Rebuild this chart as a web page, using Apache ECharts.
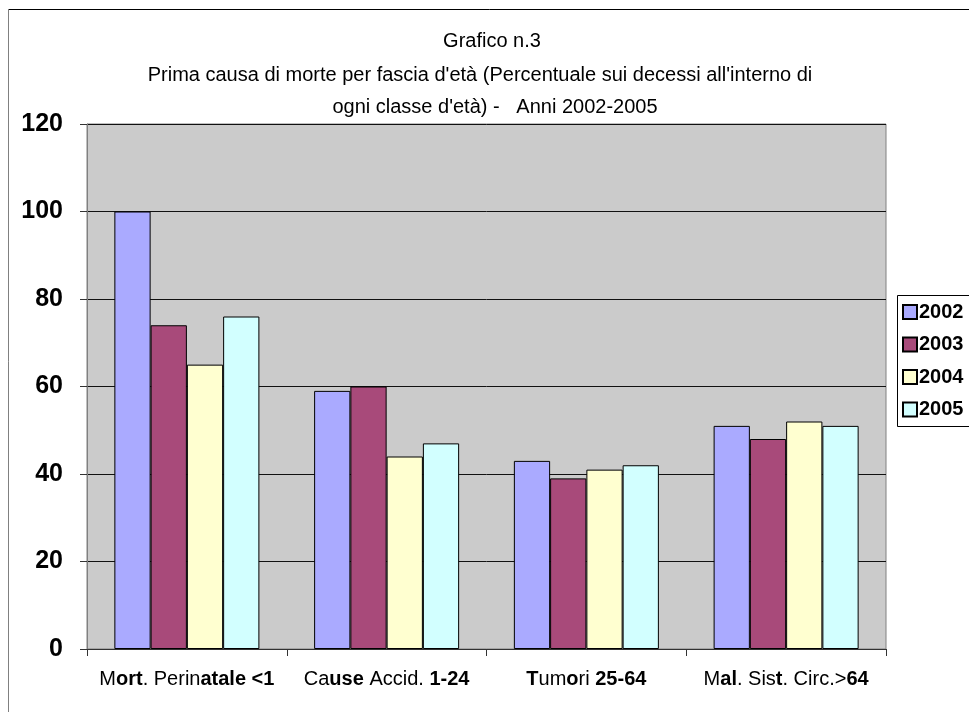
<!DOCTYPE html>
<html>
<head>
<meta charset="utf-8">
<script src="https://cdn.jsdelivr.net/npm/echarts@6/dist/echarts.min.js"></script>
<style>html,body{margin:0;padding:0;background:#fff;}#c{width:969px;height:712px;}</style>
</head>
<body>
<div id="c"></div>
<script>
var categories = ["Mort. Perinatale <1", "Cause Accid. 1-24", "Tumori 25-64", "Mal. Sist. Circ.>64"];
var years = ["2002", "2003", "2004", "2005"];
var v2002 = [100, 59, 43, 51];
var v2003 = [74, 60, 39, 48];
var v2004 = [65, 44, 41, 52];
var v2005 = [76, 47, 42, 51];
var yTicks = [0, 20, 40, 60, 80, 100, 120];
var titleLines = ["Grafico n.3",
  "Prima causa di morte per fascia d'età (Percentuale sui decessi all'interno di",
  "ogni classe d'età) -   Anni 2002-2005"];

// mixed weight rendering of the category labels (style only)
var labelRich = {
  "Mort. Perinatale <1": "{n|M}{b|ort}{n|. Perin}{b|atale <1}",
  "Cause Accid. 1-24": "{n|Ca}{b|use}{n| Accid. }{b|1-24}",
  "Tumori 25-64": "{b|T}{n|um}{b|o}{n|ri }{b|25-64}",
  "Mal. Sist. Circ.>64": "{n|M}{b|al}{n|. Sis}{b|t}{n|. Circ.>}{b|64}"
};

var colors = ["#AAAAFF", "#A84A7A", "#FFFFD0", "#D2FFFF"];
var seriesData = [v2002, v2003, v2004, v2005];
var FONT = "Arial, 'Liberation Sans', sans-serif";

var chart = echarts.init(document.getElementById('c'), null, {renderer: 'canvas'});
var series = years.map(function (y, i) {
  return {
    name: y, type: 'bar', data: seriesData[i],
    barGap: '0%', barCategoryGap: '27.4%',
    itemStyle: {color: colors[i], borderColor: '#000', borderWidth: 1},
    emphasis: {disabled: true}
  };
});

var titleX = [492, 480, 495];
var titleY = [41, 75, 107];
var graphics = titleLines.map(function (t, i) {
  return {type: 'text', x: titleX[i], y: titleY[i],
    style: {text: t, font: '20px ' + FONT, fill: '#000', textAlign: 'center', textVerticalAlign: 'middle'}};
});
graphics.push({type: 'line', shape: {x1: 8.5, y1: 9.5, x2: 980, y2: 9.5}, style: {stroke: '#000', lineWidth: 1}});
graphics.push({type: 'line', shape: {x1: 8.5, y1: 9.5, x2: 8.5, y2: 720}, style: {stroke: '#808080', lineWidth: 1}});
// legend frame running off the right edge, as in the reference
graphics.push({type: 'rect', z: -1, shape: {x: 897.5, y: 295.5, width: 120, height: 131},
  style: {fill: '#fff', stroke: '#000', lineWidth: 1}});

chart.setOption({
  animation: false,
  backgroundColor: '#fff',
  color: colors,
  graphic: graphics,
  grid: {left: 87, right: 83, top: 124, bottom: 63, show: true,
    backgroundColor: '#CBCBCB', borderColor: '#808080', borderWidth: 1},
  legend: {
    orient: 'vertical', left: 897, top: 296,
    data: years,
    icon: 'rect', itemWidth: 14, itemHeight: 14, itemGap: 12.5,
    borderWidth: 0,
    padding: [6, 4, 8, 5],
    textStyle: {fontFamily: FONT, fontSize: 20, fontWeight: 'bold', color: '#000', lineHeight: 20, padding: [0, 0, 0, -3]},
    selectedMode: false
  },
  xAxis: {
    type: 'category', data: categories,
    axisLine: {lineStyle: {color: '#333', width: 1}},
    axisTick: {show: true, length: 7, lineStyle: {color: '#333'}},
    axisLabel: {
      interval: 0, margin: 20, color: '#000', fontFamily: FONT, fontSize: 20,
      formatter: function (v) { return labelRich[v] || v; },
      rich: {
        n: {fontFamily: FONT, fontSize: 20, color: '#000'},
        b: {fontFamily: FONT, fontSize: 20, fontWeight: 'bold', color: '#000'}
      }
    }
  },
  yAxis: {
    type: 'value', min: yTicks[0], max: yTicks[yTicks.length - 1], interval: yTicks[1] - yTicks[0],
    axisLine: {show: true, lineStyle: {color: '#808080'}},
    axisTick: {show: true, length: 7, lineStyle: {color: '#333'}},
    axisLabel: {margin: 24, color: '#000', fontFamily: FONT, fontSize: 25, fontWeight: 'bold'},
    splitLine: {show: true, lineStyle: {color: '#111', width: 1}}
  },
  series: series
});
</script>
</body>
</html>
